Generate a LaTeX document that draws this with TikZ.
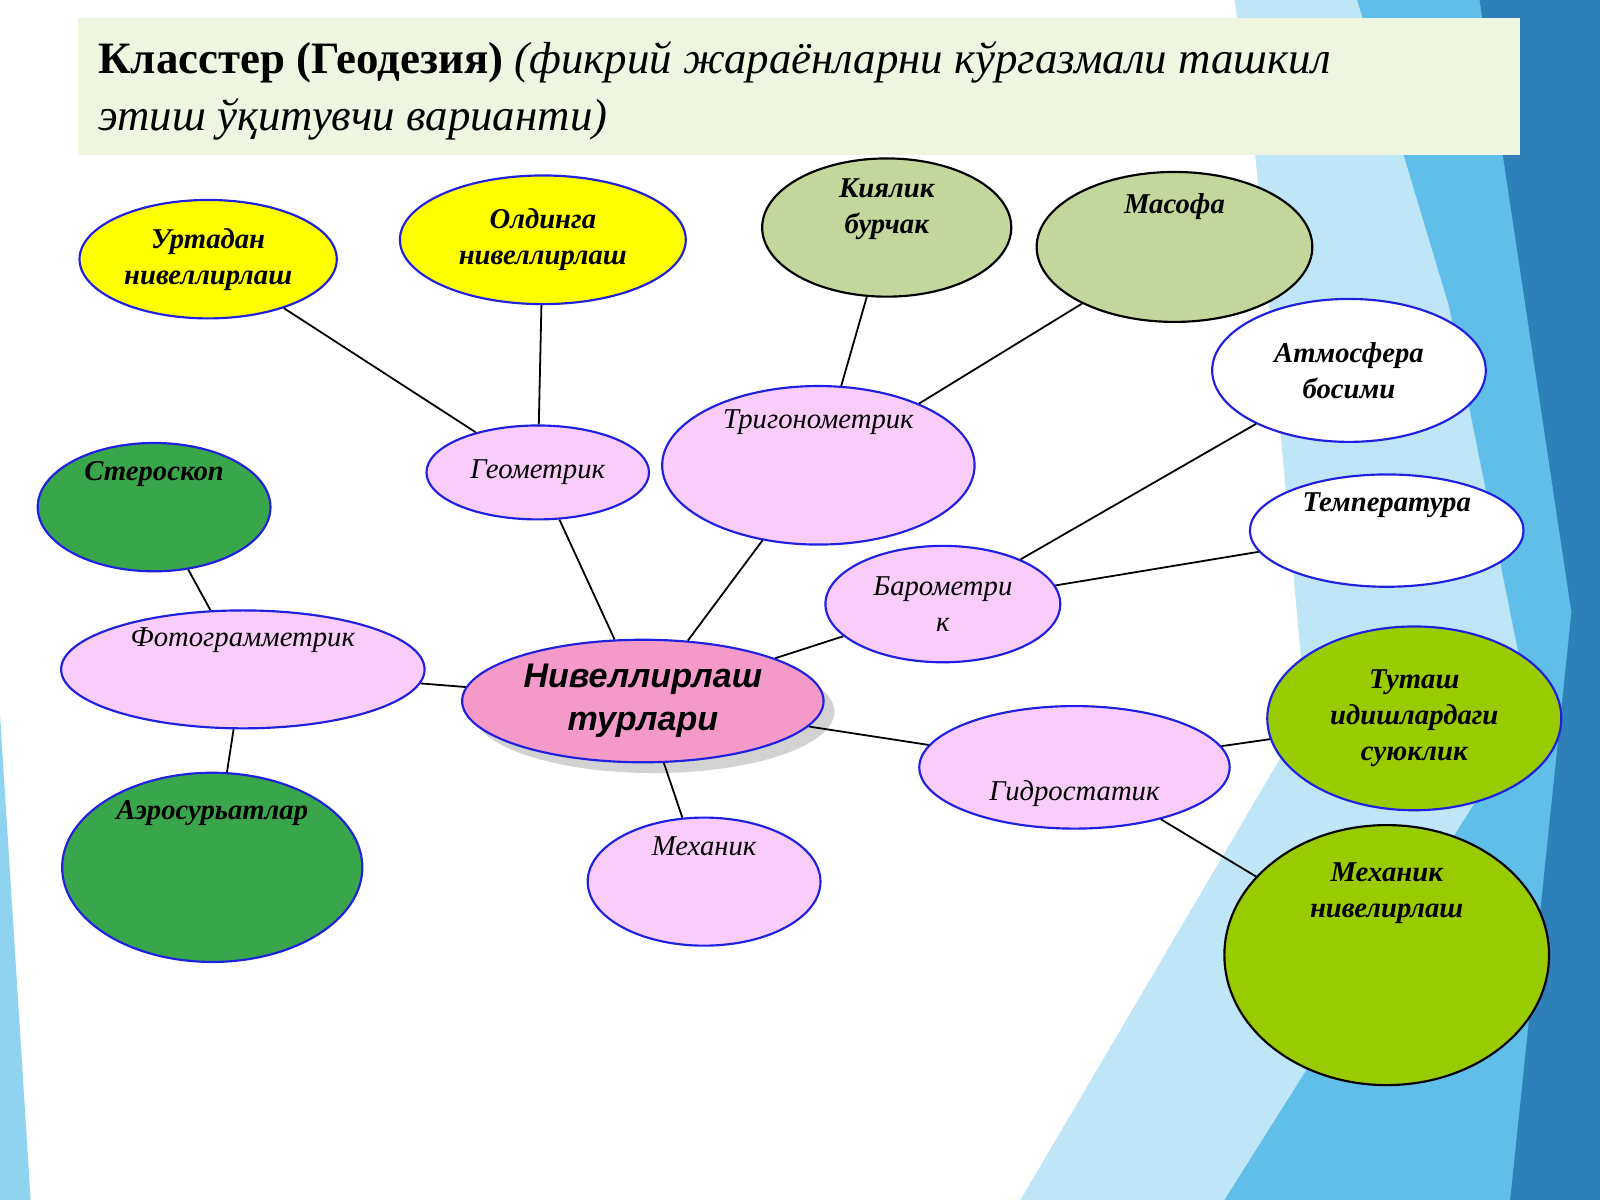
\documentclass[tikz,border=0pt]{standalone}
\usepackage{fontspec}
\setmainfont{Liberation Serif}
\setsansfont{Liberation Sans}
\usetikzlibrary{shapes.geometric,shadows}
\definecolor{pinkf}{HTML}{F9CCF9}
\definecolor{yel}{HTML}{FFFF00}
\definecolor{lgr}{HTML}{C3D69B}
\definecolor{dgr}{HTML}{3AA64C}
\definecolor{ygr}{HTML}{99CC00}
\definecolor{cen}{HTML}{F49AC9}
\definecolor{bord}{HTML}{2020E0}
\definecolor{bg1}{HTML}{BFE6F7}
\definecolor{bg2}{HTML}{5FBFE8}
\definecolor{bg3}{HTML}{2F7FB8}
\definecolor{bg4}{HTML}{8FD3F0}
\definecolor{tbox}{HTML}{EEF5E0}
\begin{document}
\begin{tikzpicture}[x=0.01cm,y=-0.01cm,
 el/.style={ellipse,draw=bord,line width=0.6pt,inner sep=0pt,align=center,font=\fontsize{8}{10}\selectfont\bfseries\itshape},
 pk/.style={el,fill=pinkf,font=\fontsize{8}{10}\selectfont\itshape},
 ln/.style={draw=black,line width=0.5pt}]
\useasboundingbox (0,0) rectangle (1568,1176);
\fill[white] (0,0) rectangle (1568,1176);
\fill[bg1] (1210,0)--(1568,0)--(1568,1176)--(1000,1176)--(1280,700)--(1230,150)--cycle;
\fill[bg2] (1330,0)--(1568,0)--(1568,1176)--(1200,1176)--(1500,700)--(1420,300)--cycle;
\fill[bg3] (1450,0)--(1568,0)--(1568,1176)--(1480,1176)--(1540,600)--cycle;
\fill[bg4] (0,700)--(30,1176)--(0,1176)--cycle;
\fill[tbox] (76,18) rectangle (1490,152);
\node[anchor=north west,align=left,font=\fontsize{12.5}{16}\selectfont] at (84,28)
 {\textbf{Класстер (Геодезия)} \textit{(фикрий жараёнларни кўргазмали ташкил}\\\textit{этиш ўқитувчи варианти)}};
\node[el,fill=yel,minimum width=2.52cm,minimum height=1.16cm] (urt) at (204,254) {Уртадан\\нивеллирлаш};
\node[el,fill=yel,minimum width=2.80cm,minimum height=1.26cm] (old) at (532,235) {Олдинга\\нивеллирлаш};
\node[el,fill=lgr,draw=black,minimum width=2.44cm,minimum height=1.26cm] (kiy) at (869,223) {Киялик\\бурчак\\[2pt]};
\node[el,fill=lgr,draw=black,minimum width=2.70cm,minimum height=1.16cm] (mas) at (1151,242) {Масофа\\[14pt]};
\node[el,fill=white,minimum width=2.68cm,minimum height=1.40cm] (atm) at (1322,363) {Атмосфера\\босими};
\node[el,fill=white,minimum width=2.68cm,minimum height=1.10cm] (tem) at (1359,520) {Температура\\[6pt]};
\node[el,fill=dgr,minimum width=2.28cm,minimum height=1.12cm] (ste) at (151,497) {Стероскоп\\[10pt]};
\node[pk,minimum width=2.18cm,minimum height=0.92cm] (geo) at (527,463) {Геометрик};
\node[pk,minimum width=3.06cm,minimum height=1.04cm] (tri) at (802,456) {Тригонометрик\\[16pt]};
\node[pk,minimum width=2.30cm,minimum height=1.14cm] (bar) at (924,592) {Барометри\\к};
\node[pk,minimum width=3.56cm,minimum height=1.12cm] (fot) at (238,656) {Фотограмметрик\\[8pt]};
\node[el,fill=cen,drop shadow={shadow xshift=3pt,shadow yshift=-3pt,fill=black!35},minimum width=3.54cm,minimum height=1.20cm,font=\fontsize{9.5}{12}\selectfont\sffamily\bfseries\itshape] (cen) at (630,687) {Нивеллирлаш\\турлари};
\node[pk,minimum width=3.04cm,minimum height=1.20cm] (gid) at (1053,752) {\\[10pt]Гидростатик};
\node[el,fill=ygr,minimum width=2.88cm,minimum height=1.80cm] (tut) at (1386,704) {Туташ\\идишлардаги\\суюклик};
\node[el,fill=ygr,draw=black,minimum width=3.18cm,minimum height=2.08cm] (mxn) at (1359,936) {Механик\\нивелирлаш\\[26pt]};
\node[el,fill=dgr,minimum width=2.94cm,minimum height=1.34cm] (aer) at (208,850) {Аэросурьатлар\\[22pt]};
\node[pk,minimum width=2.28cm,minimum height=1.14cm] (mex) at (690,864) {Механик\\[10pt]};
\draw[ln] (urt) -- (geo);
\draw[ln] (old) -- (geo);
\draw[ln] (kiy) -- (tri);
\draw[ln] (mas) -- (tri);
\draw[ln] (geo) -- (cen);
\draw[ln] (tri) -- (cen);
\draw[ln] (atm) -- (bar);
\draw[ln] (tem) -- (bar);
\draw[ln] (bar) -- (cen);
\draw[ln] (ste) -- (fot);
\draw[ln] (fot) -- (cen);
\draw[ln] (fot) -- (aer);
\draw[ln] (cen) -- (mex);
\draw[ln] (cen) -- (gid);
\draw[ln] (gid) -- (tut);
\draw[ln] (gid) -- (mxn);
\end{tikzpicture}
\end{document}
